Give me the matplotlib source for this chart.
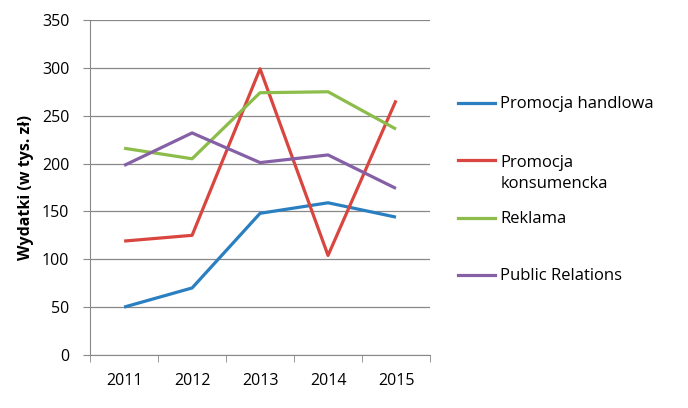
import matplotlib.pyplot as plt
from matplotlib.lines import Line2D
import numpy as np

years = ["2011", "2012", "2013", "2014", "2015"]
handlowa = [50, 70, 148, 159, 144]
konsumencka = [119, 125, 299, 104, 266]
reklama = [216, 205, 274, 275, 236]
public_rel = [198, 232, 201, 209, 174]

labels = ["Promocja handlowa", "Promocja\nkonsumencka", "Reklama", "Public Relations"]
colors = ["#2a7fc1", "#d9463f", "#8cbd4a", "#8560a5"]

plt.rcParams['font.family'] = ['Open Sans', 'DejaVu Sans']

fig = plt.figure(figsize=(6.88, 4.08), dpi=100)
ax = fig.add_axes([0.131, 0.130, 0.494, 0.821])

x = np.arange(len(years))
series = [handlowa, konsumencka, reklama, public_rel]
for vals, lab, col in zip(series, labels, colors):
    ax.plot(x, vals, color=col, lw=2.3, label=lab, solid_capstyle='butt')

ax.set_xlim(-0.5, len(years) - 0.5)
ax.set_ylim(0, 350)
ax.set_yticks(range(0, 351, 50))
ax.set_xticks(x)
ax.set_xticklabels(years)
ax.set_xticks(np.arange(-0.5, len(years)), minor=True)
ax.tick_params(axis='x', which='major', length=0, pad=13, labelsize=11.5)
ax.tick_params(axis='x', which='minor', length=5, color='#888888', direction='out')
ax.tick_params(axis='y', length=5, color='#888888', labelsize=11.5, pad=10)
ax.grid(axis='y', color='#888888', lw=0.9)
ax.set_axisbelow(True)
for s in ['top', 'right']:
    ax.spines[s].set_visible(False)
for s in ['left', 'bottom']:
    ax.spines[s].set_color('#888888')
ax.set_ylabel("Wydatki (w tys. zł)", fontweight='bold', fontsize=11.5, labelpad=6)

# legenda jak w Excelu: wpisy rozłożone równo, etykieta od pierwszej linii
y0, dy = 0.7475, 0.1405
line_h = 0.0564
for i, (lab, col) in enumerate(zip(labels, colors)):
    yy = y0 - i * dy
    fig.add_artist(Line2D([0.666, 0.72], [yy, yy], color=col, lw=2.3,
                          transform=fig.transFigure))
    extra = lab.count("\n") * line_h
    fig.text(0.727, yy - 0.0123 - extra, lab, fontsize=12, va='baseline',
             ha='left', linespacing=1.45)

fig.savefig("out.png", dpi=100)
